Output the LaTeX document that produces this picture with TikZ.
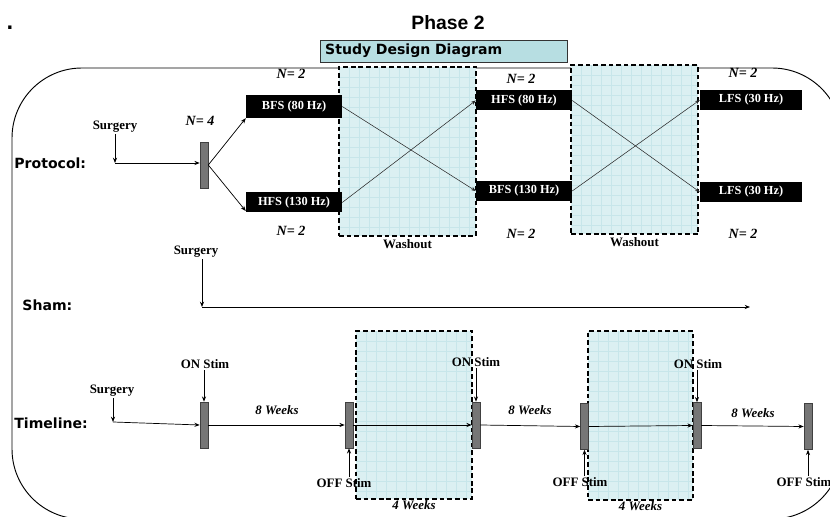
\documentclass[tikz,border=0pt]{standalone}
\usepackage{fontspec}
\setmainfont{Liberation Serif}
\newfontfamily\verdfont{DejaVu Sans}
\newfontfamily\arialfont{Liberation Sans}
\usetikzlibrary{positioning, arrows.meta}

\definecolor{washfill}{RGB}{219,240,242}
\definecolor{washgrid}{RGB}{199,230,234}
\definecolor{titlefill}{RGB}{183,222,226}
\definecolor{bargray}{RGB}{118,118,118}

\begin{document}
\begin{tikzpicture}[
        x=0.03cm, y=-0.03cm,
        every node/.style={font=\bfseries\fontsize{11}{13}\selectfont, inner sep=1pt},
        lbl/.style={font=\verdfont\bfseries\fontsize{12}{14}\selectfont},
        stim/.style={rectangle, fill=black, text=white, minimum width=2.88cm, minimum height=0.6cm, inner sep=0pt, font=\bfseries\fontsize{10.5}{12}\selectfont},
        nlab/.style={font=\bfseries\itshape\fontsize{12}{14}\selectfont},
        weeks/.style={font=\bfseries\itshape\fontsize{11}{13}\selectfont},
        bar/.style={rectangle, draw=black!75, fill=bargray, minimum width=0.24cm, minimum height=1.38cm, inner sep=0pt, line width=0.5pt},
        washout/.style={rectangle, draw, dash pattern=on 4pt off 2.5pt, line width=1pt, fill=washfill, inner sep=0pt,
            path picture={
                \foreach \i in {1,...,20} {
                    \draw[washgrid, solid, line width=0.4pt] ([xshift=\i*3mm]path picture bounding box.north west) -- ([xshift=\i*3mm]path picture bounding box.south west);
                    \draw[washgrid, solid, line width=0.4pt] ([yshift=-\i*3mm]path picture bounding box.north west) -- ([yshift=-\i*3mm]path picture bounding box.north east);
                }}},
        arrow/.style={-{Stealth[length=4.5pt, width=3.5pt]}, line width=0.6pt},
        cross/.style={-{Stealth[length=4pt, width=3pt]}, line width=0.45pt, black!85}
    ]
    \useasboundingbox (0,0) rectangle (830,517);
    \clip (0,0) rectangle (830,517);

    % outer frame
    \draw[rounded corners=2.1cm, line width=0.8pt] (12,68) rectangle (842,519);

    % heading
    \node[font=\arialfont\bfseries\fontsize{16.5}{18}\selectfont] (phase) at (448,23) {Phase 2};
    \node[font=\verdfont\bfseries\fontsize{16}{18}\selectfont] (dot) at (10,28) {.};
    \node[lbl, draw=black!80, fill=titlefill, text width=7.1cm, align=left, inner xsep=0.15cm, minimum height=0.66cm] (title) at (443.5,51) {Study Design Diagram};

    % washout periods
    \node[washout, minimum width=4.11cm, minimum height=5.07cm] (wA) at (407.5,151.5) {};
    \node[washout, minimum width=3.81cm, minimum height=5.07cm] (wB) at (634.5,149.5) {};
    \node[washout, minimum width=3.48cm, minimum height=5.04cm] (wC) at (414,415) {};
    \node[washout, minimum width=3.15cm, minimum height=5.07cm] (wD) at (640.5,415.5) {};
    \node[below=1pt of wA] (washA) {Washout};
    \node[below=1pt of wB] (washB) {Washout};
    \node[weeks, below=0pt of wC] (fourA) {4 Weeks};
    \node[weeks, below=0pt of wD] (fourB) {4 Weeks};

    % protocol
    \node[lbl, anchor=west] (protocol) at (13,163) {Protocol:};
    \node (surgP) at (115,127) {Surgery};
    \coordinate (sP) at (115,163);
    \node[bar] (pbar) at (204,165) {};
    \node[nlab] (nFour) at (200,121) {N= 4};

    \node[stim, minimum height=0.69cm] (bfsA) at (294,106.5) {BFS (80 Hz)};
    \node[stim] (hfsA) at (294,202.5) {HFS (130 Hz)};
    \node[stim] (hfsB) at (524,100.5) {HFS (80 Hz)};
    \node[stim] (bfsB) at (524,191) {BFS (130 Hz)};
    \node[stim, minimum width=3.06cm] (lfsA) at (751,100) {LFS (30 Hz)};
    \node[stim, minimum width=3.06cm] (lfsB) at (751,192) {LFS (30 Hz)};

    \node[nlab] (nA) at (291,74) {N= 2};
    \node[nlab] (nB) at (291,231) {N= 2};
    \node[nlab] (nC) at (521,79) {N= 2};
    \node[nlab] (nD) at (521,234) {N= 2};
    \node[nlab] (nE) at (743,73) {N= 2};
    \node[nlab] (nF) at (743,234) {N= 2};

    \draw[arrow] (surgP) -- (sP);
    \draw[arrow] (sP) -- (sP -| pbar.west);
    \draw[arrow] (pbar.east) -- (bfsA.south west);
    \draw[arrow] (pbar.east) -- (hfsA.190);
    \draw[cross] (bfsA.east) -- (bfsB.west);
    \draw[cross] (hfsA.east) -- (hfsB.west);
    \draw[cross] (hfsB.east) -- (lfsB.west);
    \draw[cross] (bfsB.east) -- (lfsA.west);

    % sham
    \node[lbl, anchor=west] (sham) at (21,305) {Sham:};
    \node (surgS) at (196,252) {Surgery};
    \coordinate (sS) at (202,307);
    \coordinate (shamEnd) at (750,307);
    \draw[arrow] (surgS.south -| sS) -- (sS);
    \draw[arrow] (sS) -- (shamEnd);

    % timeline
    \node[lbl, anchor=west] (timeline) at (13,423) {Timeline:};
    \node (surgT) at (112,391) {Surgery};
    \coordinate (sT) at (113,422);
    \node[bar] (t1) at (204,425) {};
    \node[bar] (t2) at (349,425) {};
    \node[bar] (t3) at (476,425) {};
    \node[bar] (t4) at (584.5,426.5) {};
    \node[bar] (t5) at (697,425.5) {};
    \node[bar] (t6) at (808,426.5) {};

    \node (onA) at (205,364) {ON Stim};
    \node (onB) at (476,362) {ON Stim};
    \node (onC) at (698,364) {ON Stim};
    \node (offA) at (344,483) {OFF Stim};
    \node (offB) at (580,482) {OFF Stim};
    \node (offC) at (804,482) {OFF Stim};
    \node[weeks] (wkA) at (277,410) {8 Weeks};
    \node[weeks] (wkB) at (530,410) {8 Weeks};
    \node[weeks] (wkC) at (753,413) {8 Weeks};

    \draw[arrow] (surgT.south -| sT) -- (sT);
    \draw[arrow] (sT) -- (t1.west);
    \draw[arrow] (onA.south -| t1) -- (t1.north);
    \draw[arrow] (onB.south -| t3) -- (t3.north);
    \draw[arrow] (onC.south -| t5) -- (t5.north);
    \draw[arrow] (offA.north -| t2) -- (t2.south);
    \draw[arrow] (offB.north -| t4) -- (t4.south);
    \draw[arrow] (offC.north -| t6) -- (t6.south);
    \foreach \a/\b in {t1/t2, t2/t3, t3/t4, t4/t5, t5/t6}
        \draw[arrow] (\a.east) -- (\b.west);
\end{tikzpicture}
\end{document}
